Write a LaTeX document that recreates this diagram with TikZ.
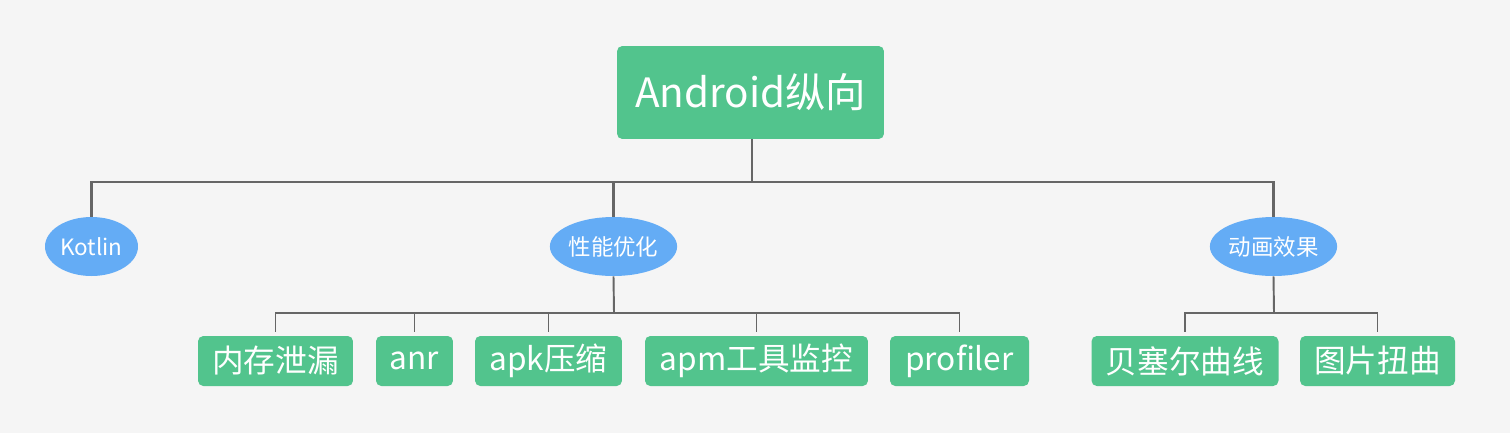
\documentclass[tikz,border=0pt]{standalone}
\usepackage{fontspec}
\setmainfont{Noto Sans CJK SC}
\usetikzlibrary{shapes.geometric}
\definecolor{fondo}{RGB}{245,245,245}
\definecolor{verde}{RGB}{82,196,141}
\definecolor{azul}{RGB}{100,172,245}
\definecolor{linea}{RGB}{102,102,102}

\begin{document}
\begin{tikzpicture}[x=0.02cm,y=-0.02cm,
    caja/.style={rectangle,rounded corners=3pt,fill=verde,text=white,inner sep=0pt,minimum height=1cm,font=\fontsize{18}{18}\selectfont},
    elipse/.style={ellipse,fill=azul,text=white,inner sep=0pt,minimum height=1.18cm,font=\fontsize{12.8}{13}\selectfont},
    tronco/.style={draw=linea,line width=1.6pt},
    rama/.style={draw=linea,line width=1.1pt}]
      % fondo
      \fill[fondo] (0,0) rectangle (1510,433);
      % raiz
      \node[caja,minimum width=5.34cm,minimum height=1.86cm,font=\fontsize{23}{23}\selectfont] (root) at (750.5,92.5) {Android纵向};
      % primer nivel
      \node[elipse,minimum width=1.86cm] (kotlin) at (91.5,246.5) {Kotlin};
      \node[elipse,minimum width=2.42cm] (perf) at (613.5,246.5) {性能优化};
      \node[elipse,minimum width=2.42cm] (anim) at (1273.5,246.5) {动画效果};
      % segundo nivel
      \node[caja,minimum width=3.1cm] (leak) at (275.5,361) {内存泄漏};
      \node[caja,minimum width=1.54cm] (anr) at (414.5,361) {anr};
      \node[caja,minimum width=2.94cm] (apk) at (548.5,361) {apk压缩};
      \node[caja,minimum width=4.46cm] (apm) at (756.5,361) {apm工具监控};
      \node[caja,minimum width=2.78cm] (prof) at (959.5,361) {profiler};
      \node[caja,minimum width=3.74cm] (bezier) at (1185,361) {贝塞尔曲线};
      \node[caja,minimum width=3.1cm] (warp) at (1377.5,361) {图片扭曲};
      % puntos de union
      \coordinate (b0) at (752,182);
      \coordinate (b1) at (614,313);
      \coordinate (b2) at (1274,313);
      % aristas
      \draw[tronco] (root.south -| b0) -- (b0);
      \draw[tronco] (b0) -| (kotlin.north);
      \draw[tronco] (b0) -| (perf.north);
      \draw[tronco] (b0) -| (anim.north);
      \draw[rama] (perf.south) -- (b1);
      \draw[rama,shorten >=2pt] (b1) -| (leak.north);
      \draw[rama,shorten >=2pt] (b1) -| (anr.north);
      \draw[rama,shorten >=2pt] (b1) -| (apk.north);
      \draw[rama,shorten >=2pt] (b1) -| (apm.north);
      \draw[rama,shorten >=2pt] (b1) -| (prof.north);
      \draw[rama] (anim.south) -- (b2);
      \draw[rama,shorten >=2pt] (b2) -| (bezier.north);
      \draw[rama,shorten >=2pt] (b2) -| (warp.north);
\end{tikzpicture}
\end{document}
